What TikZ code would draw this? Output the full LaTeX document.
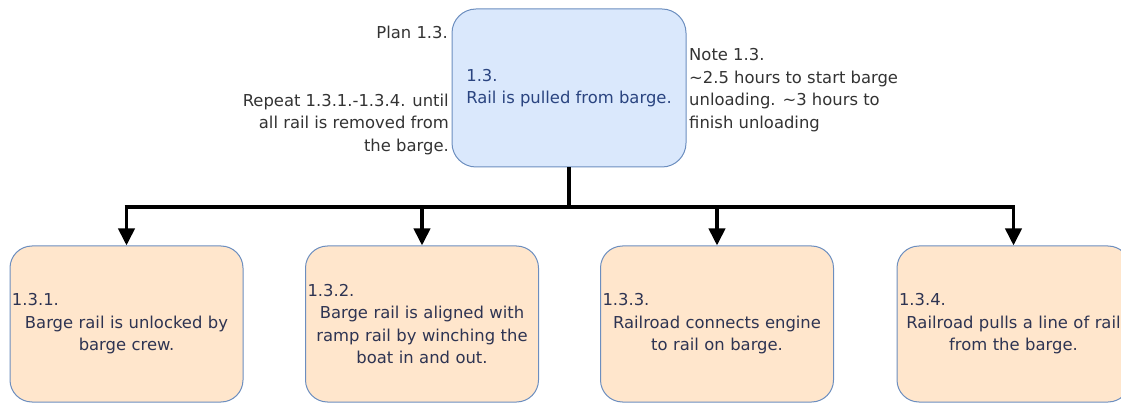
\documentclass[tikz,border=0pt]{standalone}
\usepackage{fontspec}
\setmainfont{DejaVu Sans}
\usetikzlibrary{arrows.meta}
\definecolor{topfill}{HTML}{DAE8FC}
\definecolor{boxline}{HTML}{6C8EBF}
\definecolor{subfill}{HTML}{FFE6CC}
\definecolor{toptext}{HTML}{2A4480}
\definecolor{subtext}{HTML}{2E3452}
\definecolor{notetext}{HTML}{333333}
\tikzset{
  topbox/.style={draw=boxline, fill=topfill, line width=1pt, rounded corners=24pt,
    minimum width=234pt, minimum height=158pt, text=toptext, align=left,
    font=\fontsize{16.4}{22.5}\selectfont},
  subbox/.style={draw=boxline, fill=subfill, line width=1pt, rounded corners=22pt,
    minimum width=233pt, minimum height=156pt, text width=229pt, inner xsep=2pt,
    text=subtext, align=center, font=\fontsize{16.4}{22.5}\selectfont},
  memo/.style={text=notetext, inner sep=0pt, font=\fontsize{16.4}{22.5}\selectfont},
  link/.style={line width=3.8pt, line cap=butt},
  arrowlink/.style={link, -{Triangle[width=16pt,length=17pt]}}
}
\begin{document}
\begin{tikzpicture}[x=1pt, y=-1pt]
\useasboundingbox (0,0) rectangle (1121,403);

% parent task
\node[topbox] (top) at (569,88) {1.3.\\Rail is pulled from barge.};

% notes around the parent task
\node[memo, anchor=east] (plan) at (448,32) {Plan 1.3.};
\node[memo, anchor=east, align=right] (repeat) at (449,124)
  {Repeat 1.3.1.-1.3.4. until\\all rail is removed from\\the barge.};
\node[memo, anchor=west, align=left] (note) at (689,90)
  {Note 1.3.\\\textasciitilde2.5 hours to start barge\\unloading. \textasciitilde3 hours to\\finish unloading};

% subtasks
\node[subbox] (s1) at (126.5,324) {1.3.1.\hfill\mbox{}\\Barge rail is unlocked by\\barge crew.};
\node[subbox] (s2) at (422,324) {1.3.2.\hfill\mbox{}\\Barge rail is aligned with\\ramp rail by winching the\\boat in and out.};
\node[subbox] (s3) at (717,324) {1.3.3.\hfill\mbox{}\\Railroad connects engine\\to rail on barge.};
\node[subbox] (s4) at (1013.5,324) {1.3.4.\hfill\mbox{}\\Railroad pulls a line of rail\\from the barge.};

% connectors
\coordinate (fork) at (569,207);
\draw[link] (top.south) -- (fork);
\draw[link] ([xshift=-1.9pt]s1.north |- fork) -- ([xshift=1.9pt]s4.north |- fork);
\foreach \s in {s1,s2,s3,s4}
  \draw[arrowlink] (\s.north |- fork) -- (\s.north);
\end{tikzpicture}
\end{document}
